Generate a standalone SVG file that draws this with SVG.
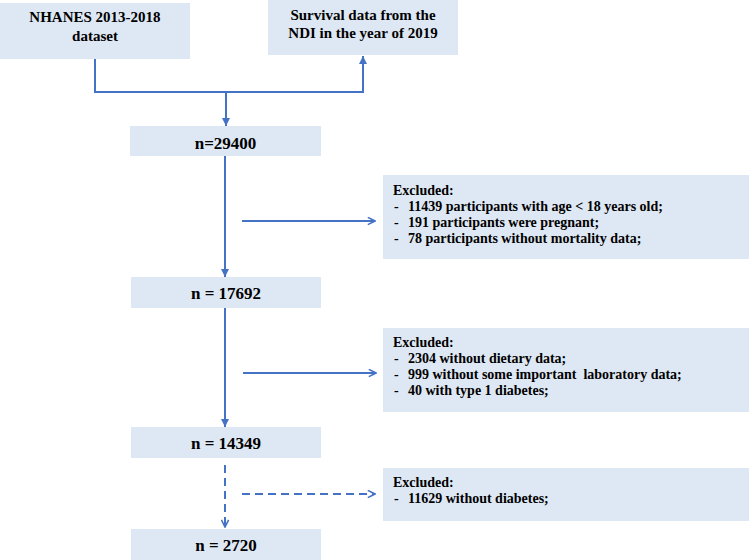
<svg xmlns="http://www.w3.org/2000/svg" width="749" height="560" viewBox="0 0 749 560">
<style>
.box{fill:#dee8f4;}
.t{font-family:"Liberation Serif","Times New Roman",serif;font-weight:bold;fill:#000;}
.main{font-size:17px;text-anchor:middle;}
.top{font-size:15px;text-anchor:middle;}
.ex{font-size:14px;}
.ln{stroke:#4472c4;stroke-width:2;fill:none;}
.dash{stroke-dasharray:8,5;}
</style>
<defs>
<marker id="tri" viewBox="0 0 10 10" refX="10" refY="5" markerWidth="8" markerHeight="8" orient="auto" markerUnits="userSpaceOnUse">
<path d="M0,0 L10,5 L0,10 z" fill="#4472c4"/>
</marker>
<marker id="open" viewBox="0 0 10 10" refX="9" refY="5" markerWidth="9" markerHeight="9" orient="auto" markerUnits="userSpaceOnUse">
<path d="M1,1 L9,5 L1,9" fill="none" stroke="#4472c4" stroke-width="1.8"/>
</marker>
</defs>
<g id="n-nhanes">
<rect class="box" x="0" y="3" width="190" height="56"/>
<text class="t top" x="95" y="22">NHANES 2013-2018</text>
<text class="t top" x="95" y="41">dataset</text>
</g>
<g id="n-survival">
<rect class="box" x="268" y="0" width="190" height="55"/>
<text class="t top" x="363" y="20">Survival data from the</text>
<text class="t top" x="363" y="38">NDI in the year of 2019</text>
</g>
<g id="n-29400">
<rect class="box" x="130" y="126" width="191" height="30"/>
<text class="t main" x="225.500" y="149">n=29400</text>
</g>
<g id="n-ex1">
<rect class="box" x="383" y="175" width="366" height="84"/>
<text class="t ex" x="393" y="195">Excluded:</text>
<text class="t ex" x="394" y="211">-</text>
<text class="t ex" x="408" y="211">11439 participants with age &lt; 18 years old;</text>
<text class="t ex" x="394" y="227">-</text>
<text class="t ex" x="408" y="227">191 participants were pregnant;</text>
<text class="t ex" x="394" y="243">-</text>
<text class="t ex" x="408" y="243">78 participants without mortality data;</text>
</g>
<g id="n-17692">
<rect class="box" x="131" y="277" width="190" height="31"/>
<text class="t main" x="226" y="299">n = 17692</text>
</g>
<g id="n-ex2">
<rect class="box" x="383" y="328" width="366" height="84"/>
<text class="t ex" x="393" y="347">Excluded:</text>
<text class="t ex" x="394" y="363">-</text>
<text class="t ex" x="408" y="363">2304 without dietary data;</text>
<text class="t ex" x="394" y="379">-</text>
<text class="t ex" x="408" y="379" xml:space="preserve">999 without some important  laboratory data;</text>
<text class="t ex" x="394" y="395">-</text>
<text class="t ex" x="408" y="395">40 with type 1 diabetes;</text>
</g>
<g id="n-14349">
<rect class="box" x="131" y="427" width="190" height="31"/>
<text class="t main" x="226" y="449">n = 14349</text>
</g>
<g id="n-ex3">
<rect class="box" x="383" y="468" width="366" height="53"/>
<text class="t ex" x="393" y="487">Excluded:</text>
<text class="t ex" x="394" y="503">-</text>
<text class="t ex" x="408" y="503">11629 without diabetes;</text>
</g>
<g id="n-2720">
<rect class="box" x="131" y="529" width="190" height="31"/>
<text class="t main" x="226" y="551">n = 2720</text>
</g>
<g id="connectors">
<polyline class="ln" points="95,59 95,92 363,92 363,56" marker-end="url(#tri)"/>
<line class="ln" x1="226" y1="92" x2="226" y2="126" marker-end="url(#tri)"/>
<line class="ln" x1="225" y1="156" x2="225" y2="277" marker-end="url(#tri)"/>
<line class="ln" x1="242" y1="221" x2="375" y2="221" marker-end="url(#open)"/>
<line class="ln" x1="225" y1="308" x2="225" y2="427" marker-end="url(#tri)"/>
<line class="ln" x1="243" y1="373" x2="376" y2="373" marker-end="url(#open)"/>
<line class="ln dash" x1="225" y1="465" x2="225" y2="527" marker-end="url(#open)"/>
<line class="ln dash" x1="242" y1="494" x2="375" y2="494" marker-end="url(#open)"/>
</g>
</svg>
